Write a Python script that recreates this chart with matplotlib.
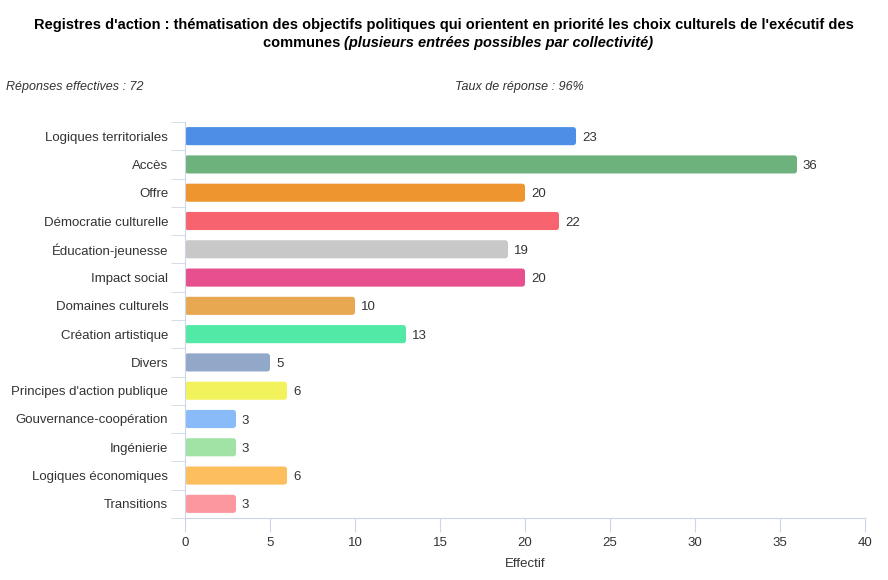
import matplotlib.pyplot as plt
import numpy as np
from matplotlib.patches import FancyBboxPatch

categories = ["Logiques territoriales", "Accès", "Offre", "Démocratie culturelle",
              "Éducation-jeunesse", "Impact social", "Domaines culturels",
              "Création artistique", "Divers", "Principes d'action publique",
              "Gouvernance-coopération", "Ingénierie", "Logiques économiques",
              "Transitions"]
values = [23, 36, 20, 22, 19, 20, 10, 13, 5, 6, 3, 3, 6, 3]
colors = ["#4f8ee6", "#6db27c", "#ee9530", "#f7646f", "#c8c8c8", "#e74f8e",
          "#e8a851", "#52e8a6", "#91a8c8", "#f2f35c", "#88bbf8", "#a1e3a5",
          "#fdbe5e", "#fc97a0"]
xticks = [0, 5, 10, 15, 20, 25, 30, 35, 40]

plt.rcParams['font.family'] = ['Liberation Sans', 'DejaVu Sans']
axis_col = "#ccd6eb"
text_col = "#333333"

fig = plt.figure(figsize=(8.88, 5.8), dpi=100)
ax = fig.add_axes([185 / 888, 1 - 518 / 580, 680 / 888, 396 / 580])

y = np.arange(len(categories))
ax.set_xlim(0, 40)
ax.set_ylim(len(categories) - 0.5, -0.5)
bars = ax.barh(y, values, height=0.64, color=colors)
# rounded corners, like the original
for b in bars:
    b.set_visible(False)
    ax.add_patch(FancyBboxPatch(b.get_xy(), b.get_width(), b.get_height(),
                                boxstyle="round,pad=0,rounding_size=0.17",
                                mutation_aspect=0.6, facecolor=b.get_facecolor(),
                                edgecolor="none"))
for yi, v in zip(y, values):
    ax.text(v + 0.35, yi, str(v), va="center_baseline", ha="left", fontsize=9.5, color=text_col)

ax.set_xticks(xticks)
ax.set_yticks(y)
ax.set_yticklabels(categories)
ax.tick_params(axis="y", length=0, pad=12, labelsize=9.5, labelcolor=text_col)
ax.tick_params(axis="x", length=10, color=axis_col, pad=4, labelsize=9.5, labelcolor=text_col)
ax.set_yticks(np.arange(-0.5, len(categories), 1), minor=True)
ax.tick_params(axis="y", which="minor", length=10, color=axis_col)

for s in ["top", "right"]:
    ax.spines[s].set_visible(False)
ax.spines["left"].set_color(axis_col)
ax.spines["bottom"].set_color(axis_col)
ax.set_xlabel("Effectif", fontsize=9.5, color=text_col, labelpad=6)

fig.text(0.5, 1 - 25 / 580, "Registres d'action : thématisation des objectifs politiques qui orientent en priorité les choix culturels de l'exécutif des",
         ha="center", va="center", fontsize=10.5, fontweight="bold")
r = fig.canvas.get_renderer()
t1 = fig.text(0, 1 - 43 / 580, "communes ", ha="left", va="center", fontsize=10.5, fontweight="bold")
t2 = fig.text(0, 1 - 43 / 580, "(plusieurs entrées possibles par collectivité)", ha="left", va="center",
              fontsize=10.5, fontweight="bold", fontstyle="italic")
w1 = t1.get_window_extent(r).width
w2 = t2.get_window_extent(r).width
x0 = 458 - (w1 + w2) / 2
t1.set_x(x0 / 888)
t2.set_x((x0 + w1) / 888)

fig.text(6 / 888, 1 - 87 / 580, "Réponses effectives : 72", ha="left", va="center",
         fontsize=9, fontstyle="italic", color=text_col)
fig.text(455 / 888, 1 - 87 / 580, "Taux de réponse : 96%", ha="left", va="center",
         fontsize=9, fontstyle="italic", color=text_col)

fig.savefig("out.png", dpi=100)
